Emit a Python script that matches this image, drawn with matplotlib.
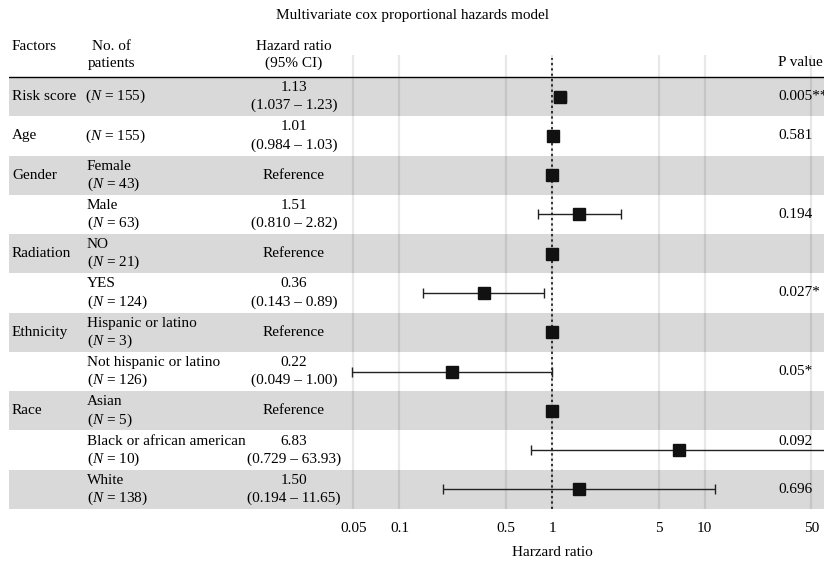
import matplotlib
matplotlib.use('Agg')
import matplotlib.pyplot as plt
import matplotlib.transforms as mtransforms
import numpy as np

plt.rcParams['font.family'] = ['Liberation Serif', 'DejaVu Serif']
plt.rcParams['mathtext.fontset'] = 'custom'
plt.rcParams['mathtext.rm'] = 'Liberation Serif'
plt.rcParams['mathtext.it'] = 'Liberation Serif:italic'

# data
factors = ['Risk score', 'Age', 'Gender', '', 'Radiation', '', 'Ethnicity', '', 'Race', '', '']
groups = ['', '', 'Female', 'Male', 'NO', 'YES', 'Hispanic or latino', 'Not hispanic or latino',
          'Asian', 'Black or african american', 'White']
n_pat = [155, 155, 43, 63, 21, 124, 3, 126, 5, 10, 138]
hr = [1.13, 1.01, 1.0, 1.51, 1.0, 0.36, 1.0, 0.22, 1.0, 6.83, 1.50]
lo = [1.037, 0.984, np.nan, 0.810, np.nan, 0.143, np.nan, 0.049, np.nan, 0.729, 0.194]
hi = [1.23, 1.03, np.nan, 2.82, np.nan, 0.89, np.nan, 1.00, np.nan, 63.93, 11.65]
hr_lab = ['1.13', '1.01', 'Reference', '1.51', 'Reference', '0.36', 'Reference', '0.22',
          'Reference', '6.83', '1.50']
ci_lab = ['(1.037 – 1.23)', '(0.984 – 1.03)', '', '(0.810 – 2.82)', '', '(0.143 – 0.89)', '',
          '(0.049 – 1.00)', '', '(0.729 – 63.93)', '(0.194 – 11.65)']
p_vals = ['0.005**', '0.581', '', '0.194', '', '0.027*', '', '0.05*', '', '0.092', '0.696']
ticks = [0.05, 0.1, 0.5, 1, 5, 10, 50]

W, H = 824, 562
fig = plt.figure(figsize=(W / 100, H / 100), dpi=100)
fs = 11

# axes in pixel positions
ax_l, ax_r, ax_t, ax_b = 9, 824, 55, 509
ax = fig.add_axes([ax_l / W, 1 - ax_b / H, (ax_r - ax_l) / W, (ax_b - ax_t) / H])
ppd = 152.6  # pixels per decade
ax.set_xscale('log')
ax.set_xlim(10 ** ((ax_l - 552) / ppd), 10 ** ((ax_r - 552) / ppd))
nrow = len(hr)
rowh = (ax_b - 77) / nrow
ax.set_ylim(nrow - 0.5, -0.5 - (77 - ax_t) / rowh)

for i in range(nrow):
    if i % 2 == 0:
        ax.axhspan(i - 0.5, i + 0.5, color='#d9d9d9', lw=0, zorder=0)
for t in ticks:
    ax.axvline(t, color='black', alpha=0.09, lw=1.6, zorder=1)
ax.axhline(-0.5, color='black', lw=1.0, zorder=2)
ax.plot([1, 1], [nrow - 0.5, -0.5 - (77 - 58) / rowh], color='black', ls=(0, (1.5, 2)), lw=1.1, zorder=2)

y = np.arange(nrow)
hr_a = np.array(hr)
err = np.array([hr_a - np.array(lo), np.array(hi) - hr_a])
ax.errorbar(hr, y, xerr=err, fmt='none', ecolor='#222222', elinewidth=1.0, capsize=3.5, capthick=1.0, zorder=3)
ax.plot(hr, y, 's', color='#111111', ms=9, zorder=4)

ax.set_xticks(ticks)
ax.set_xticklabels([str(t) for t in ticks])
ax.minorticks_off()
ax.tick_params(axis='x', length=0, pad=9, labelsize=fs)
ax.set_yticks([])
for s in ax.spines.values():
    s.set_visible(False)

# table text
tr = mtransforms.blended_transform_factory(fig.transFigure, ax.transData)
dy = 0.23
for i in range(nrow):
    if factors[i]:
        ax.text(12 / W, i, factors[i], transform=tr, fontsize=fs, va='center', ha='left')
    ntxt = '($N$ = %d)' % n_pat[i]
    if groups[i]:
        ax.text(87 / W, i - dy, groups[i], transform=tr, fontsize=fs, va='center', ha='left')
        ax.text(87 / W, i + dy, ntxt, transform=tr, fontsize=fs, va='center', ha='left')
    else:
        ax.text(85 / W, i, ntxt, transform=tr, fontsize=fs, va='center', ha='left')
    if ci_lab[i]:
        ax.text(294 / W, i - dy, hr_lab[i], transform=tr, fontsize=fs, va='center', ha='center')
        ax.text(294 / W, i + dy, ci_lab[i], transform=tr, fontsize=fs, va='center', ha='center')
    else:
        ax.text(294 / W, i, hr_lab[i], transform=tr, fontsize=fs, va='center', ha='center')
    if p_vals[i]:
        py = i - dy if groups[i].startswith('Black') else i
        ax.text(778 / W, py, p_vals[i], transform=tr, fontsize=fs, va='center', ha='left')

# headers
fig.text(412 / W, 1 - 15 / H, 'Multivariate cox proportional hazards model', fontsize=fs, ha='center', va='center')
fig.text(12 / W, 1 - 47 / H, 'Factors', fontsize=fs, va='center')
fig.text(92 / W, 1 - 47 / H, 'No. of', fontsize=fs, va='center')
fig.text(88 / W, 1 - 63 / H, 'patients', fontsize=fs, va='center')
fig.text(294 / W, 1 - 47 / H, 'Hazard ratio', fontsize=fs, ha='center', va='center')
fig.text(294 / W, 1 - 63 / H, '(95% CI)', fontsize=fs, ha='center', va='center')
fig.text(778 / W, 1 - 63 / H, 'P value', fontsize=fs, va='center')
fig.text(552 / W, 1 - 552 / H, 'Harzard ratio', fontsize=fs, ha='center', va='center')

fig.savefig('out.png', dpi=100)
